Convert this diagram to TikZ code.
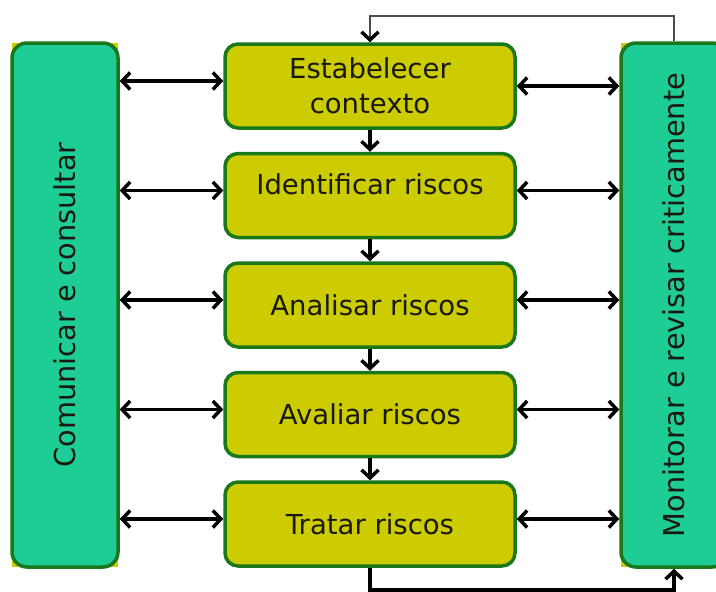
\documentclass[tikz,border=0pt]{standalone}
\usepackage{fontspec}
\setmainfont{DejaVu Sans}
\usetikzlibrary{arrows.meta}
\definecolor{yel}{RGB}{204,204,0}
\definecolor{teal2}{RGB}{30,204,150}
\definecolor{bord}{RGB}{25,120,25}
\definecolor{txt}{RGB}{25,25,15}
\tikzset{
  stepbox/.style={draw=bord, line width=3.5pt, fill=yel, rounded corners=13pt,
    minimum width=290pt, minimum height=84pt, align=center, text=txt,
    font=\fontsize{27.5}{35}\selectfont, inner sep=0pt},
  tallbox/.style={draw=bord, line width=3.5pt, fill=teal2, rounded corners=15pt,
    rotate=90, minimum width=524pt, minimum height=106pt, text=txt,
    font=\fontsize{28.8}{32}\selectfont, inner sep=0pt},
  dbl/.style={line width=3.5pt, {Straight Barb[length=8pt,width=17pt]}-{Straight Barb[length=8pt,width=17pt]}},
  down/.style={line width=3.5pt, -{Straight Barb[length=8pt,width=17pt]}},
  fbtop/.style={line width=2pt, draw=black!70, -{Straight Barb[length=8pt,width=17pt,line width=3.5pt,color=black]}},
  fbbot/.style={line width=3.5pt, -{Straight Barb[length=8pt,width=17pt]}}
}
\begin{document}
\begin{tikzpicture}[x=1pt,y=-1pt]
\useasboundingbox (0,0) rectangle (716,592);
\clip (0,0) rectangle (716,592);
\fill[white] (0,0) rectangle (716,592);
% yellow backs of the tall boxes
\fill[yel] (12,43) rectangle (118,567);
\fill[yel] (621,43) rectangle (727,567);
\node[tallbox] (L) at (65,305) {Comunicar e consultar};
\node[tallbox] (R) at (674,305) {Monitorar e revisar criticamente};
\node[stepbox] (B1) at (370,86) {Estabelecer\\contexto};
\node[stepbox] (B2) at (370,195.5) {\raisebox{11pt}[\height][\depth]{Identificar riscos}};
\node[stepbox] (B3) at (370,305) {Analisar riscos};
\node[stepbox] (B4) at (370,414.5) {Avaliar riscos};
\node[stepbox] (B5) at (370,524) {Tratar riscos};
\foreach \b in {B1,B2,B3,B4,B5}{
  \draw[dbl] ([yshift=5pt]\b.west -| L.south) -- ([yshift=5pt]\b.west);
}
\draw[dbl] (B1.east -| R.north) -- (B1.east);
\foreach \b in {B2,B3,B4,B5}{
  \draw[dbl] ([yshift=5pt]\b.east -| R.north) -- ([yshift=5pt]\b.east);
}
\draw[down] (B1) -- (B2);
\draw[down] (B2) -- (B3);
\draw[down] (B3) -- (B4);
\draw[down] (B4) -- (B5);
\coordinate (top) at (370,16);
\coordinate (bot) at (370,590);
\draw[fbtop] (R.east) |- (top) -- (B1.north);
\draw[fbbot] (B5.south) -- (bot) -| (R.west);
\end{tikzpicture}
\end{document}
